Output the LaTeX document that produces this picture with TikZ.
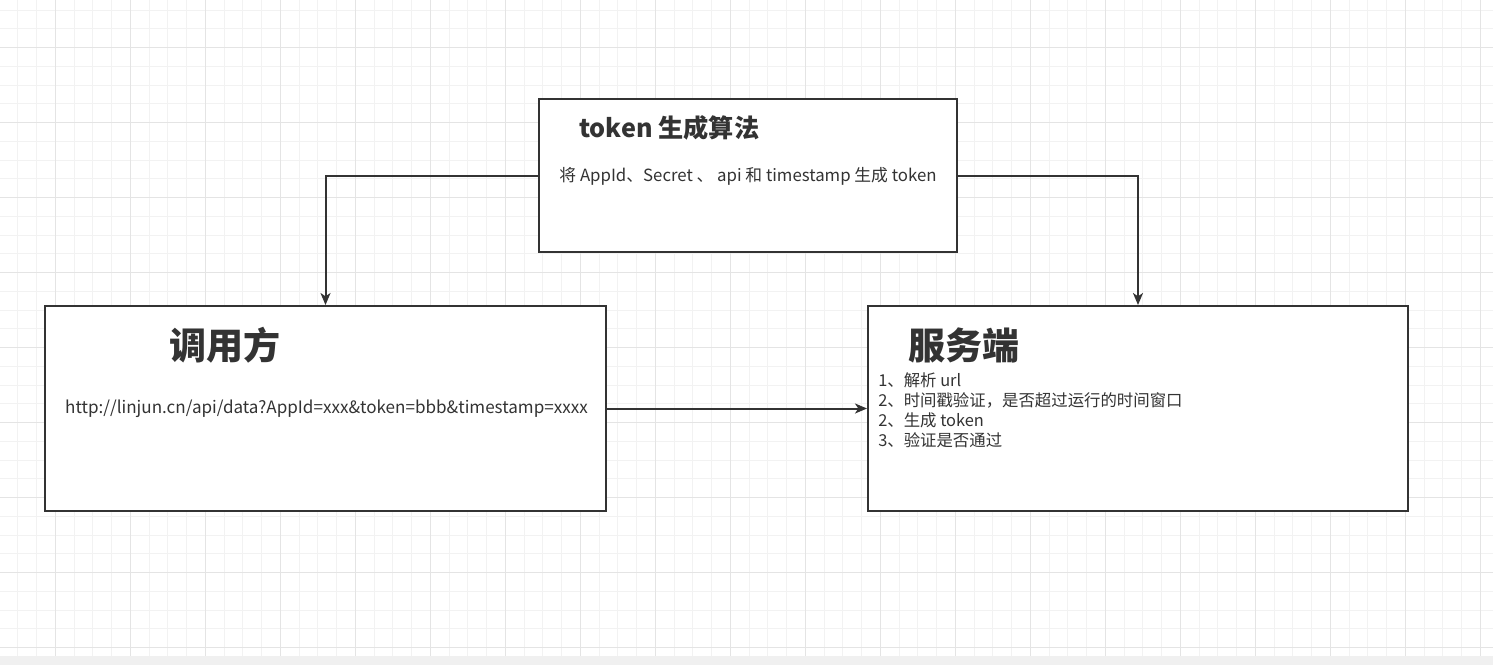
\documentclass[tikz,border=0pt]{standalone}
\usepackage{fontspec}
\setmainfont{Noto Sans CJK SC}
\usepackage{tikz}
\usetikzlibrary{arrows.meta}
\definecolor{ink}{HTML}{333333}
\definecolor{gridminor}{HTML}{F2F2F2}
\definecolor{gridmajor}{HTML}{E4E4E4}
\definecolor{strip}{HTML}{F0F0F0}
\tikzset{
  box/.style={draw=ink, fill=white, line width=1.5pt, inner sep=0pt},
  link/.style={draw=ink, line width=1.5pt, -{Stealth[length=9pt, width=7.5pt, inset=2.5pt]}},
  bigtitle/.style={anchor=west, inner sep=0pt, text=ink, font=\fontsize{27.8pt}{30pt}\selectfont\bfseries},
  smalltext/.style={inner sep=0pt, text=ink, font=\fontsize{12.6pt}{15pt}\selectfont},
}

\begin{document}
\begin{tikzpicture}[x=0.75pt,y=0.75pt,yscale=-1,xscale=1]
\useasboundingbox (0,0) rectangle (1493,665);

% background grid
\fill[white] (0,0) rectangle (1493,656);
\foreach \i in {0,...,79} {
  \pgfmathsetmacro\gx{17.8+18.75*\i}
  \draw[gridminor, line width=0.75pt] (\gx,0) -- (\gx,656);
}
\foreach \i in {0,...,34} {
  \pgfmathsetmacro\gy{10.2+18.75*\i}
  \draw[gridminor, line width=0.75pt] (0,\gy) -- (1493,\gy);
}
\foreach \i in {0,...,19} {
  \pgfmathsetmacro\gx{55.3+75*\i}
  \draw[gridmajor, line width=0.75pt] (\gx,0) -- (\gx,656);
}
\foreach \i in {0,...,8} {
  \pgfmathsetmacro\gy{47.7+75*\i}
  \draw[gridmajor, line width=0.75pt] (0,\gy) -- (1493,\gy);
}
\fill[strip] (0,656) rectangle (1493,665);

% boxes
\node[box, minimum width=313.5pt, minimum height=114.75pt] (gen) at (748,175.5) {};
\node[box, minimum width=420.75pt, minimum height=153.75pt] (caller) at (325.5,408.5) {};
\node[box, minimum width=405pt, minimum height=153.75pt] (server) at (1138,408.5) {};

% texts
\node[bigtitle, font=\fontsize{18.9pt}{20pt}\selectfont\bfseries] (gentitle) at (579,128) {token 生成算法};
\node[smalltext] (genbody) at (748,176) {将 AppId、Secret 、 api 和 timestamp 生成 token};
\node[bigtitle] (callertitle) at (169,345) {调用方};
\node[smalltext, font=\fontsize{12.8pt}{15pt}\selectfont] (url) at (326.5,409) {http://linjun.cn/api/data?AppId=xxx\&token=bbb\&timestamp=xxxx};
\node[bigtitle] (servertitle) at (908,345) {服务端};
\node[smalltext, font=\fontsize{12.3pt}{15pt}\selectfont, anchor=north west, align=left] (steps) at (878,372) {1、解析 url\\2、时间戳验证，是否超过运行的时间窗口\\2、生成 token\\3、验证是否通过};

% connectors
\draw[link] (gen.west) -| (caller.north);
\draw[link] (gen.east) -| (server.north);
\draw[link] (caller.east) -- (server.west);

\end{tikzpicture}
\end{document}
